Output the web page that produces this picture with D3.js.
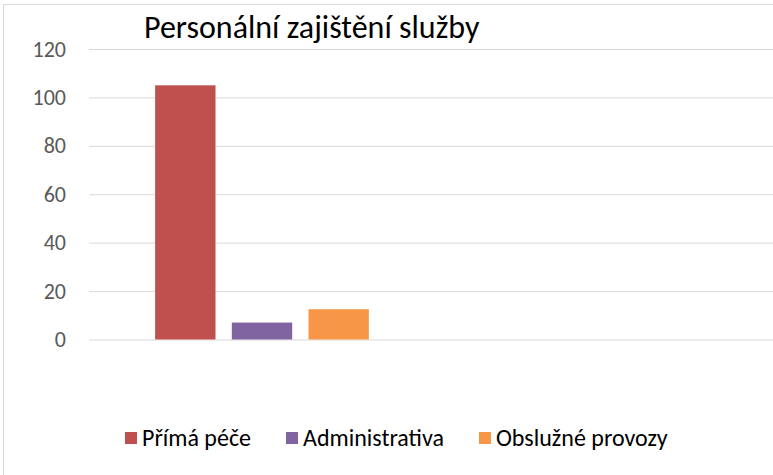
<!DOCTYPE html>
<html>
<head>
<meta charset="utf-8">
<script src="https://cdn.jsdelivr.net/npm/d3@7"></script>
<style>
  body { margin: 0; background: #fff; }
  text { font-family: Carlito, Calibri, "Open Sans", sans-serif; }
</style>
</head>
<body>
<div id="chart-area"></div>
<script>
// chart data
const title = "Personální zajištění služby"
const categories = ["1", "2"]           // second category is empty in the source chart
const seriesNames = ["Přímá péče", "Administrativa", "Obslužné provozy"]
const seriesValues = [[105], [7], [12.5]]
const seriesColors = ["#c0504d", "#8064a2", "#f79646"]
const yTicks = [0, 20, 40, 60, 80, 100, 120]

const W = 773, H = 475
const PLOT = { LEFT: 89, RIGHT: 781, TOP: 49, BOTTOM: 339.5 }

const svg = d3.select("#chart-area").append("svg")
    .attr("width", W)
    .attr("height", H)

svg.append("rect").attr("width", W).attr("height", H).attr("fill", "#fff")

// chart border (cropped on right / bottom like the source)
svg.append("rect")
    .attr("x", 3.5).attr("y", 4.5)
    .attr("width", W + 20).attr("height", H + 20)
    .attr("fill", "none")
    .attr("stroke", "#d9d9d9")
    .attr("stroke-width", 1)

const y = d3.scaleLinear()
    .domain([0, 120])
    .range([PLOT.BOTTOM, PLOT.TOP])

const x0 = d3.scaleBand()
    .domain(categories)
    .range([PLOT.LEFT, PLOT.RIGHT])

// excel style: gap width 219%, overlap -27%
const barW = x0.bandwidth() / (seriesNames.length + 2 * 0.27 + 2.19)
const x1 = d3.scaleBand()
    .domain(seriesNames)
    .range([barW * 2.19 / 2, x0.bandwidth() - barW * 2.19 / 2])
    .paddingInner(0.27 / 1.27)

// gridlines + y labels
const yAxis = d3.axisLeft(y)
    .tickValues(yTicks)
    .tickSize(-(PLOT.RIGHT - PLOT.LEFT))
    .tickPadding(23)

const yg = svg.append("g")
    .attr("transform", `translate(${PLOT.LEFT},0)`)
    .call(yAxis)
yg.select(".domain").remove()
yg.selectAll(".tick line").attr("stroke", "#d9d9d9").attr("stroke-width", 1)
yg.selectAll(".tick text")
    .attr("fill", "#595959")
    .attr("font-size", "22px")
    .attr("font-family", null)

// bars
seriesNames.forEach((name, si) => {
    svg.append("g")
        .selectAll("rect")
        .data(seriesValues[si])
        .enter()
        .append("rect")
        .attr("x", (d, i) => x0(categories[i]) + x1(name))
        .attr("y", d => y(d))
        .attr("width", x1.bandwidth())
        .attr("height", d => y(0) - y(d))
        .attr("fill", seriesColors[si])
})

// title
svg.append("text")
    .attr("x", 144)
    .attr("y", 38)
    .attr("font-size", "32px")
    .attr("fill", "#000")
    .text(title)

// legend
const legend = svg.append("g").attr("transform", "translate(125,432)")
let lx = 0
seriesNames.forEach((name, i) => {
    const item = legend.append("g").attr("transform", `translate(${lx},0)`)
    item.append("rect")
        .attr("width", 12).attr("height", 12)
        .attr("fill", seriesColors[i])
    const t = item.append("text")
        .attr("x", 17)
        .attr("y", 13.5)
        .attr("font-size", "24px")
        .attr("fill", "#000")
        .text(name)
    lx += 17 + t.node().getComputedTextLength() + 35
})
</script>
</body>
</html>
